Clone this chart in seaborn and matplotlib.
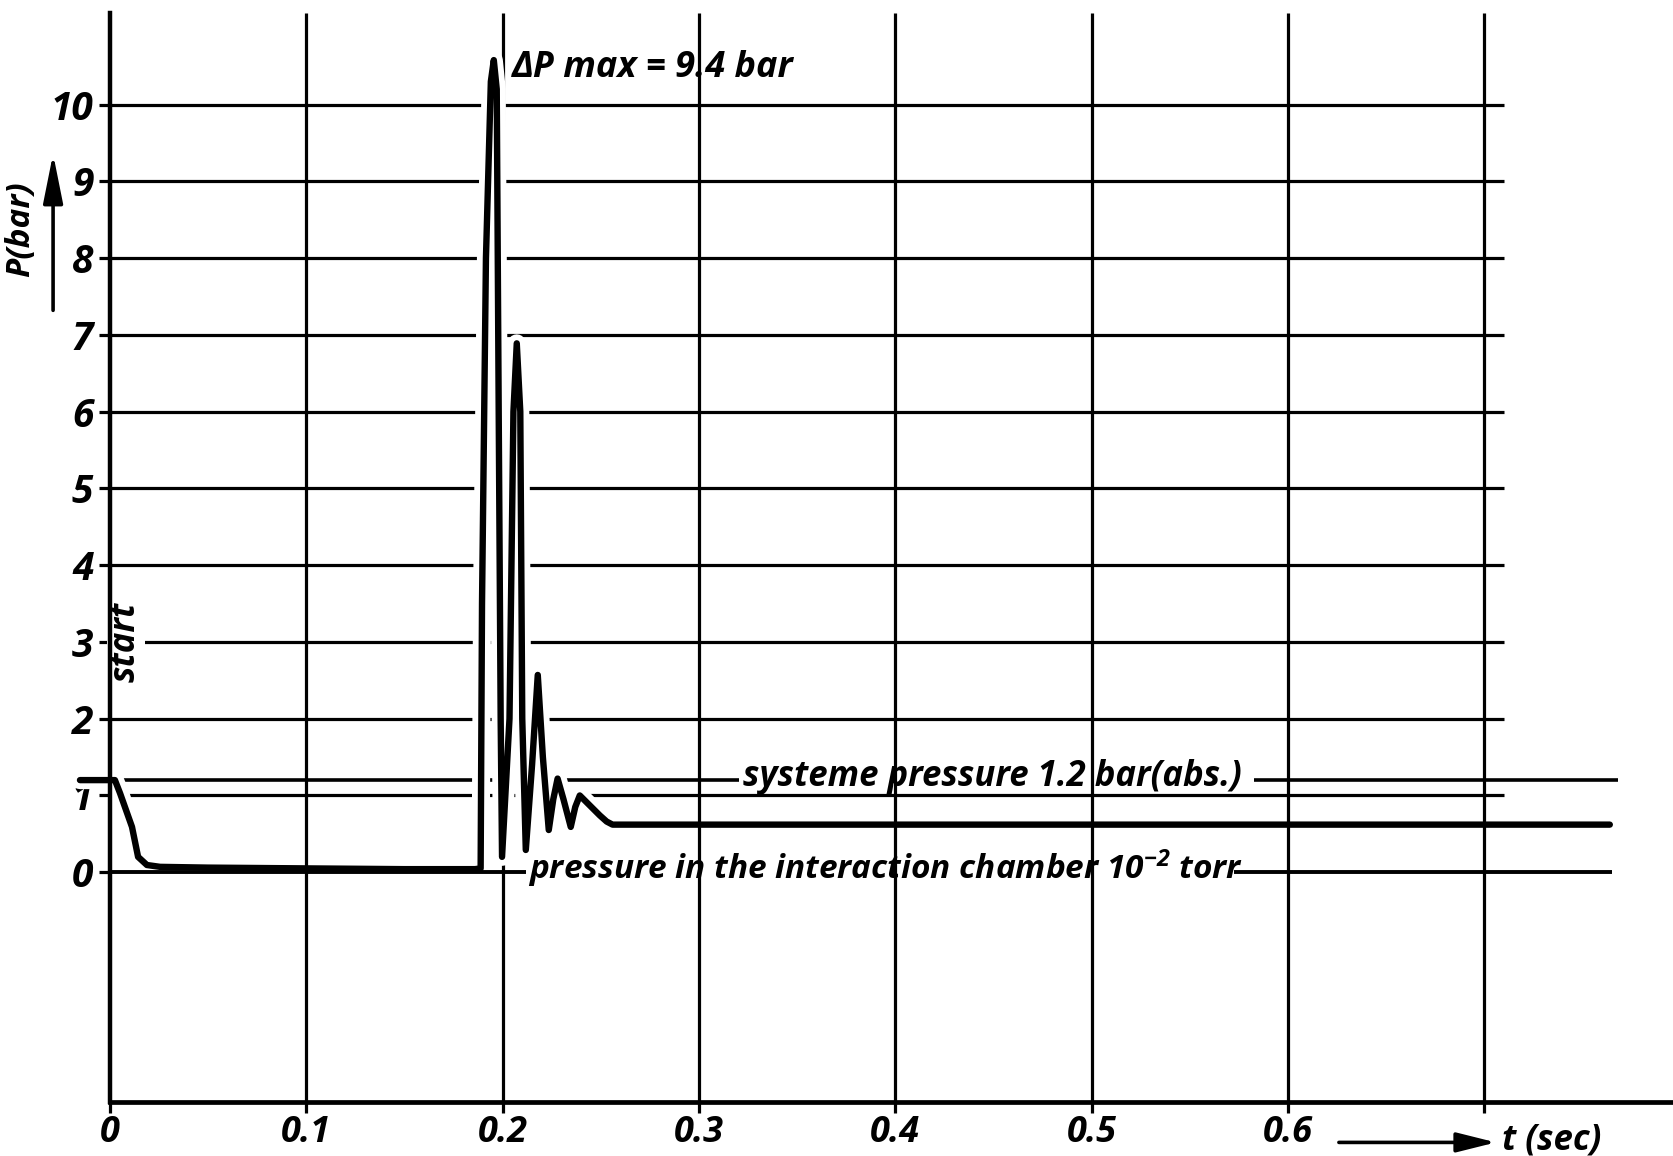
import numpy as np
import pandas as pd
import matplotlib
matplotlib.use("Agg")
import matplotlib.pyplot as plt
import seaborn as sns

# ---- data ----
time_s = [-0.0153, 0.0025, 0.0051, 0.0112, 0.0143, 0.0188, 0.0255, 0.05, 0.10, 0.15, 0.1860,
          0.1888, 0.1895, 0.1915, 0.1940, 0.1955, 0.1970, 0.1980, 0.1990, 0.1997,
          0.2035, 0.2055, 0.2072, 0.2090, 0.2100, 0.2118,
          0.2150, 0.2179, 0.2205, 0.2235,
          0.2258, 0.2280, 0.2310, 0.2347,
          0.2370, 0.2393, 0.2444, 0.2495, 0.2530, 0.2560, 0.2650, 0.40, 0.55, 0.7640]
pressure_bar = [1.20, 1.20, 1.03, 0.59, 0.20, 0.094, 0.07, 0.06, 0.05, 0.04, 0.04,
                0.05, 3.5, 8.0, 10.3, 10.58, 10.2, 6.0, 2.0, 0.20,
                2.0, 6.0, 6.89, 6.0, 2.0, 0.29,
                1.4, 2.57, 1.5, 0.55,
                0.95, 1.22, 0.95, 0.59,
                0.85, 1.00, 0.87, 0.74, 0.66, 0.62, 0.62, 0.62, 0.62, 0.62]

x_ticks = [0, 0.1, 0.2, 0.3, 0.4, 0.5, 0.6, 0.7]
x_tick_labels = ["0", "0.1", "0.2", "0.3", "0.4", "0.5", "0.6", ""]
y_ticks = [0, 1, 2, 3, 4, 5, 6, 7, 8, 9, 10]
y_tick_labels = ["0", "1", "2", "3", "4", "5", "6", "7", "8", "9", "10"]
grid_levels = [1, 2, 3, 4, 5, 6, 7, 8, 9, 10]
system_pressure = 1.2
chamber_pressure = 0.0

dp_label = "ΔP max = 9.4 bar"
system_label = "systeme pressure 1.2 bar(abs.)"
chamber_label = r"pressure in the interaction chamber 10$\mathregular{^{-2}}$ torr"
start_label = "start"
y_label = "P(bar)"
x_label = "t (sec)"

# ---- style ----
sns.set_theme(style="white")
plt.rcParams["font.family"] = ["Open Sans", "DejaVu Sans"]
FONT = dict(fontstyle="italic", fontweight="bold", color="black")
INK = "black"

fig = plt.figure(figsize=(16.74, 11.56), dpi=100)
ax = fig.add_axes([0, 0, 1, 1])
ax.set_xlim(-0.05604, 0.7967)
ax.set_ylim(-3.697, 11.363)
ax.set_facecolor("white")

# grid
ax.vlines(x_ticks[1:], -3, 11.2, color=INK, lw=2.3, zorder=1)
ax.hlines(grid_levels, 0, 0.71, color=INK, lw=2.3, zorder=1)

# reference lines with gaps for text
ax.hlines(system_pressure, 0, 0.3205, color=INK, lw=2.6, zorder=1)
ax.hlines(system_pressure, 0.5830, 0.768, color=INK, lw=2.6, zorder=1)
ax.hlines(chamber_pressure, 0, 0.2120, color=INK, lw=2.8, zorder=4)
ax.hlines(chamber_pressure, 0.5725, 0.765, color=INK, lw=2.8, zorder=4)

# pressure trace
df = pd.DataFrame({"t": time_s, "P": pressure_bar})
# white halo where the trace crosses the grid (start and burst)
halo_mask = [(t <= 0.02) for t in df["t"]]
burst_mask = [(0.186 <= t <= 0.245) for t in df["t"]]
for mask in (halo_mask, burst_mask):
    sns.lineplot(data=df[mask], x="t", y="P", sort=False, estimator=None,
                 color="white", lw=13, ax=ax, zorder=2)
    ax.lines[-1].set_solid_capstyle("round")
    ax.lines[-1].set_solid_joinstyle("round")
sns.lineplot(data=df, x="t", y="P", sort=False, estimator=None, color=INK,
             lw=4.6, ax=ax, zorder=3)
trace = ax.lines[-1]
trace.set_solid_joinstyle("round")
trace.set_solid_capstyle("round")

# spines
for s in ["top", "right"]:
    ax.spines[s].set_visible(False)
ax.spines["left"].set_position(("data", 0))
ax.spines["left"].set_bounds(-3, 11.2)
ax.spines["bottom"].set_position(("data", -3))
ax.spines["bottom"].set_bounds(0, 0.7967)
for s in ["left", "bottom"]:
    ax.spines[s].set_color(INK)
    ax.spines[s].set_zorder(5)
ax.spines["left"].set_linewidth(3.2)
ax.spines["bottom"].set_linewidth(3.4)

# ticks
ax.set_xticks(x_ticks)
ax.set_xticklabels(x_tick_labels)
ax.set_yticks(y_ticks)
ax.set_yticklabels(y_tick_labels)
ax.tick_params(axis="x", bottom=True, direction="out", length=8, width=2.3,
               pad=1, labelsize=26, colors=INK)
ax.tick_params(axis="y", left=True, direction="out", length=8, width=2.3,
               pad=4, labelsize=28, colors=INK)
for lab in ax.get_xticklabels() + ax.get_yticklabels():
    lab.set_fontstyle("italic")
    lab.set_fontweight("bold")
ax.set_xlabel("")
ax.set_ylabel("")

# annotations
ax.text(0.2048, 10.36, dp_label, fontsize=26, ha="left", va="baseline", **FONT)
ax.text(0.3227, 1.24, system_label, fontsize=25, ha="left", va="center", **FONT)
ax.text(0.2128, 0.05, chamber_label, fontsize=24, ha="left", va="center", **FONT)
ax.text(0.0082, 3.0, start_label, fontsize=25, rotation=90, ha="center", va="center",
        zorder=4, bbox=dict(facecolor="white", edgecolor="none", pad=1), **FONT)
ax.text(-0.0453, 8.38, y_label, fontsize=24, rotation=90, ha="center", va="center", **FONT)
ax.annotate("", xy=(-0.029, 9.36), xytext=(-0.029, 7.32),
            arrowprops=dict(arrowstyle="-|>,head_length=1.0,head_width=0.2",
                            mutation_scale=30, lw=2.6, color=INK, shrinkA=0, shrinkB=0))
ax.annotate("", xy=(0.706, -3.52), xytext=(0.626, -3.52),
            arrowprops=dict(arrowstyle="-|>,head_length=0.8,head_width=0.2",
                            mutation_scale=30, lw=2.6, color=INK, shrinkA=0, shrinkB=0))
ax.text(0.709, -3.50, x_label, fontsize=25, ha="left", va="center", **FONT)

fig.savefig("out.png", dpi=100, facecolor="white")
